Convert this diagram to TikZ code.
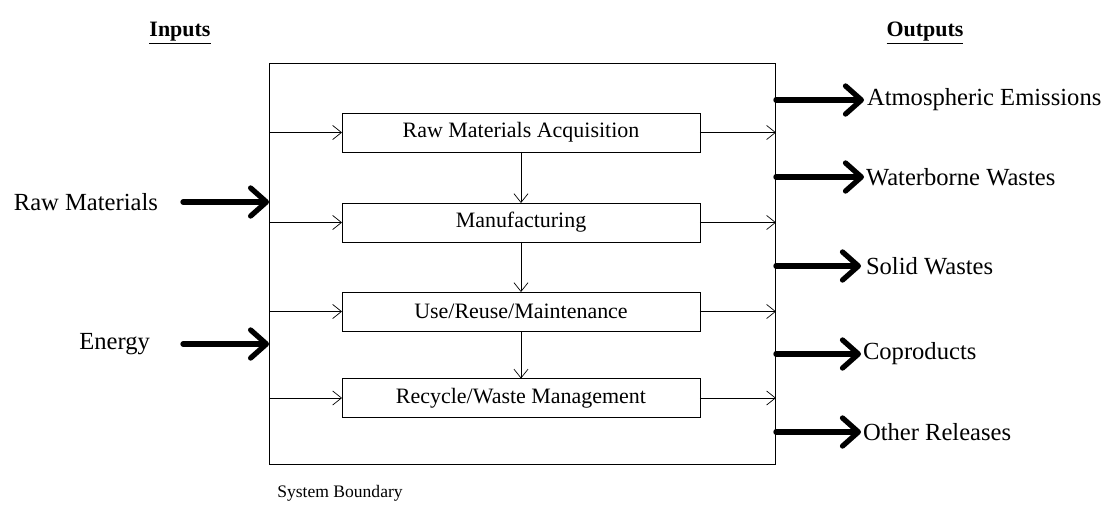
\documentclass[tikz,border=0pt]{standalone}
\usepackage{fontspec}
\setmainfont{Liberation Serif}
\usetikzlibrary{arrows.meta}
\begin{document}
\begin{tikzpicture}[x=0.02cm,y=-0.02cm,
  every node/.style={inner sep=0pt, outer sep=0pt},
  stage/.style={draw, line width=0.5pt, minimum width=7.16cm, minimum height=0.78cm, font=\fontsize{12.5}{14}\selectfont},
  thinarrow/.style={line width=0.4pt, -{Straight Barb[length=5pt,width=8pt]}},
  bigarrow/.style={line width=3pt, line cap=round, -{Straight Barb[length=9pt,width=16pt,line width=3pt,round]}},
  lab/.style={font=\fontsize{14}{16}\selectfont},
  head/.style={font=\bfseries\fontsize{12.5}{15}\selectfont}]
\useasboundingbox (0,0) rectangle (1120,514);
\node[draw, line width=0.6pt, minimum width=10.14cm, minimum height=8.04cm] (sb) at (522.5,264) {};
\node[stage] (b1) at (521,132.5) {Raw Materials Acquisition};
\node[stage] (b2) at (521,222.5) {Manufacturing};
\node[stage] (b3) at (521,311.5) {Use/Reuse/Maintenance};
\node[stage] (b4) at (521,398) {Recycle/Waste Management};
\foreach \b in {b1,b2,b3,b4} {
  \draw[thinarrow] (sb.west |- \b) -- (\b.west);
  \draw[thinarrow] (\b.east) -- (sb.east |- \b);
}
\draw[thinarrow] (b1) -- (b2);
\draw[thinarrow] (b2) -- (b3);
\draw[thinarrow] (b3) -- (b4);
\node[head] (hin) at (180,33) {\underline{Inputs}};
\node[head] (hout) at (925,33) {\underline{Outputs}};
\coordinate (i1) at (183,202);
\coordinate (i2) at (183,344);
\node[lab, anchor=east] (lrm) at (158,202) {Raw Materials};
\node[lab, anchor=east] (len) at (150,344) {Energy};
\draw[bigarrow] (i1) -- (sb.west |- i1);
\draw[bigarrow] (i2) -- (sb.west |- i2);
\coordinate (o1) at (864,100);
\coordinate (o2) at (864,177);
\coordinate (o3) at (861,266);
\coordinate (o4) at (861,354);
\coordinate (o5) at (861,432);
\foreach \o in {o1,o2,o3,o4,o5} \draw[bigarrow] (sb.east |- \o) -- (\o);
\node[lab, anchor=west] (t1) at (867,100) {Atmospheric Emissions};
\node[lab, anchor=west] (t2) at (866,177) {Waterborne Wastes};
\node[lab, anchor=west] (t3) at (866,266) {Solid Wastes};
\node[lab, anchor=west] (t4) at (863,354) {Coproducts};
\node[lab, anchor=west] (t5) at (863,432) {Other Releases};
\node[font=\fontsize{10}{12}\selectfont] (sbl) at (340,493) {System Boundary};
\end{tikzpicture}
\end{document}
